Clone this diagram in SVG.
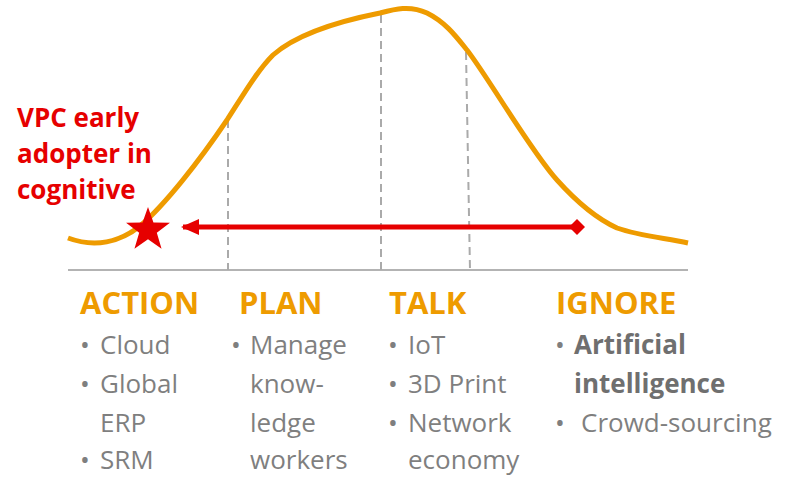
<svg xmlns="http://www.w3.org/2000/svg" width="788" height="477" viewBox="0 0 788 477">
<style>
.head{font-family:"Open Sans","Liberation Sans",sans-serif;font-weight:700;font-size:31px;fill:#ee9b00}
.item{font-family:"Open Sans","Liberation Sans",sans-serif;font-size:26px;fill:#7f7f7f}
.bold{font-weight:700;fill:#6f6f6f}
.red{font-family:"Open Sans","Liberation Sans",sans-serif;font-weight:700;font-size:26px;fill:#e60000}
.dash{stroke:#aaaaaa;stroke-width:2;stroke-dasharray:8 5;fill:none}
</style>
<defs>
<marker id="ah" viewBox="0 0 18 16" refX="16" refY="8" markerWidth="18" markerHeight="16" markerUnits="userSpaceOnUse" orient="auto">
<path d="M0,0 L18,8 L0,16 Z" fill="#e60000"/>
</marker>
</defs>
<rect width="788" height="477" fill="#ffffff"/>
<g id="axis">
<line x1="68" y1="270" x2="688" y2="270" stroke="#b3b3b3" stroke-width="2"/>
<line class="dash" x1="228" y1="120" x2="228" y2="270"/>
<line class="dash" x1="381" y1="15" x2="381" y2="270"/>
<line class="dash" x1="466" y1="52" x2="470" y2="270"/>
</g>
<g id="curve">
<path d="M68,238 C95,248 120,242 140,226 C165,205 200,160 227,120 C245,92 258,70 273,55 C290,40 320,25 380,13 C395,9 410,5 427,13 C445,22 455,35 467,50 C490,80 530,150 557,180 C575,200 595,218 617,228 C640,236 665,238 688,243" fill="none" stroke="#ee9b00" stroke-width="5" stroke-linecap="butt"/>
</g>
<g id="connectors">
<line x1="577" y1="227" x2="183" y2="227" stroke="#e60000" stroke-width="5" marker-end="url(#ah)"/>
<path d="M577,219 L585,227 L577,235 L569,227 Z" fill="#e60000"/>
</g>
<g id="star">
<polygon fill="#e60000" transform="translate(148,230) scale(1.05)" points="0,-22 5.2,-7.1 20.9,-6.8 8.4,2.7 12.9,17.8 0,8.8 -12.9,17.8 -8.4,2.7 -20.9,-6.8 -5.2,-7.1"/>
</g>
<g id="label-vpc">
<text class="red" x="17" y="127">VPC early</text>
<text class="red" x="17" y="163">adopter in</text>
<text class="red" x="17" y="199">cognitive</text>
</g>
<g id="action">
<text class="head" x="80" y="314">ACTION</text>
<text class="item" x="80" y="354">• <tspan x="100">Cloud</tspan></text>
<text class="item" x="80" y="393">• <tspan x="100">Global</tspan></text>
<text class="item" x="100" y="432">ERP</text>
<text class="item" x="80" y="469">• <tspan x="100">SRM</tspan></text>
</g>
<g id="plan">
<text class="head" x="239" y="314">PLAN</text>
<text class="item" x="231" y="354">• <tspan x="250">Manage</tspan></text>
<text class="item" x="250" y="393">know-</text>
<text class="item" x="250" y="432">ledge</text>
<text class="item" x="250" y="469">workers</text>
</g>
<g id="talk">
<text class="head" x="389" y="314">TALK</text>
<text class="item" x="388" y="354">• <tspan x="408">IoT</tspan></text>
<text class="item" x="388" y="393">• <tspan x="408">3D Print</tspan></text>
<text class="item" x="388" y="432">• <tspan x="408">Network</tspan></text>
<text class="item" x="408" y="469">economy</text>
</g>
<g id="ignore">
<text class="head" x="556" y="314">IGNORE</text>
<text class="item" x="555" y="354">• <tspan class="bold" x="574">Artificial</tspan></text>
<text class="item bold" x="574" y="393">intelligence</text>
<text class="item" x="555" y="432">• <tspan x="581">Crowd-sourcing</tspan></text>
</g>
</svg>
